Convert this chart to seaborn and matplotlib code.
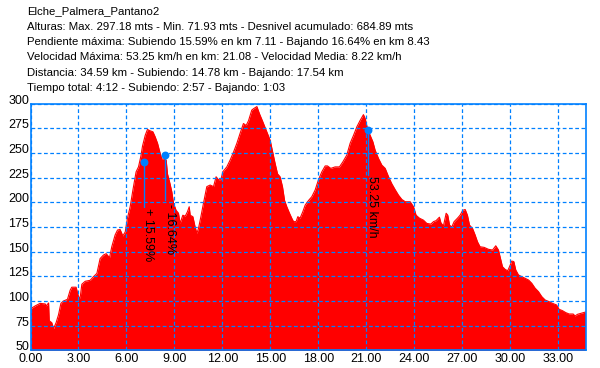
import matplotlib
matplotlib.use("Agg")
import matplotlib.pyplot as plt
import seaborn as sns
import pandas as pd

# ---------------- data ----------------
km = [0.00, 0.29, 0.60, 0.92, 0.98, 1.13, 1.17, 1.33, 1.44, 1.60, 1.75, 1.90,
      2.06, 2.31, 2.48, 2.58, 2.85, 3.00, 3.10, 3.21, 3.42, 3.73, 3.94, 4.15,
      4.35, 4.56, 4.73, 4.94, 5.08, 5.29, 5.44, 5.60, 5.77, 5.92, 6.06, 6.23,
      6.40, 6.60, 6.75, 6.90, 7.00, 7.17, 7.31, 7.48, 7.65, 7.79, 7.94, 8.10,
      8.21, 8.35, 8.48, 8.56, 8.69, 8.83, 8.94, 9.10, 9.25, 9.35, 9.52, 9.67,
      9.81, 9.92, 9.98, 10.15, 10.29, 10.40, 10.50, 10.65, 10.81, 11.02, 11.23,
      11.44, 11.60, 11.75, 11.90, 12.02, 12.27, 12.48, 12.69, 12.90, 13.10,
      13.31, 13.48, 13.63, 13.83, 13.94, 14.15, 14.31, 14.52, 14.77, 14.98,
      15.15, 15.29, 15.44, 15.60, 15.75, 15.88, 16.02, 16.19, 16.33, 16.44,
      16.60, 16.71, 16.85, 17.02, 17.17, 17.38, 17.58, 17.79, 18.00, 18.21,
      18.42, 18.56, 18.77, 19.04, 19.31, 19.52, 19.77, 19.98, 20.19, 20.40,
      20.60, 20.81, 20.92, 21.06, 21.23, 21.40, 21.54, 21.75, 21.96, 22.17,
      22.38, 22.58, 22.79, 23.00, 23.21, 23.42, 23.73, 23.94, 24.10, 24.31,
      24.56, 24.77, 25.02, 25.19, 25.35, 25.56, 25.65, 25.81, 25.98, 26.08,
      26.19, 26.33, 26.48, 26.69, 26.85, 27.02, 27.17, 27.31, 27.44, 27.63,
      27.79, 27.94, 28.10, 28.35, 28.63, 28.88, 29.08, 29.25, 29.40, 29.50,
      29.67, 29.83, 29.96, 30.08, 30.21, 30.33, 30.50, 30.71, 30.92, 31.13,
      31.33, 31.54, 31.75, 31.96, 32.17, 32.42, 32.63, 32.88, 33.04, 33.25,
      33.46, 33.67, 33.92, 34.04, 34.19, 34.40, 34.69]
elev = [92.0, 95.0, 97.6, 97.0, 95.0, 98.0, 80.0, 78.0, 72.0, 78.0, 86.0, 97.6,
        100.0, 101.7, 111.0, 114.0, 114.0, 104.4, 103.0, 117.0, 120.0, 121.0,
        124.7, 128.0, 143.0, 146.6, 148.0, 144.0, 155.0, 167.0, 172.0, 172.6,
        166.0, 170.0, 184.0, 195.6, 212.5, 231.0, 236.0, 247.0, 257.0, 268.0,
        274.0, 272.6, 271.6, 266.6, 260.0, 250.0, 244.0, 244.0, 243.0, 229.0,
        221.0, 211.0, 199.0, 192.0, 189.0, 178.7, 187.0, 186.0, 190.5, 195.6,
        187.0, 185.5, 175.0, 168.6, 173.6, 185.5, 199.0, 216.0, 217.6, 216.0,
        226.0, 223.0, 223.0, 231.0, 236.0, 243.0, 251.0, 260.0, 270.0, 280.0,
        278.0, 283.0, 293.6, 295.0, 297.2, 290.0, 281.8, 271.6, 263.0, 250.0,
        239.5, 229.0, 226.0, 216.0, 202.0, 195.6, 189.0, 184.0, 180.5, 180.5,
        185.5, 184.0, 190.5, 197.3, 202.0, 205.7, 212.5, 223.0, 231.0, 237.0,
        237.0, 234.5, 236.0, 236.0, 241.0, 248.0, 260.0, 268.0, 276.7, 283.0,
        289.0, 285.0, 275.0, 268.0, 261.5, 253.0, 244.6, 237.8, 234.5, 226.0,
        219.0, 213.0, 207.4, 203.0, 200.7, 200.7, 195.6, 187.0, 184.0, 182.0,
        178.7, 178.0, 180.5, 181.5, 185.0, 179.4, 176.0, 189.0, 187.0, 177.0,
        175.0, 180.5, 184.0, 187.0, 192.0, 192.8, 187.0, 177.0, 173.6, 167.0,
        160.0, 155.0, 154.4, 152.4, 151.7, 156.0, 151.7, 141.5, 134.8, 132.0,
        130.7, 135.5, 140.5, 140.0, 131.5, 126.4, 124.7, 123.0, 121.3, 118.0,
        113.0, 109.5, 104.4, 101.0, 99.3, 97.6, 96.0, 91.6, 90.2, 88.2, 86.8,
        86.8, 84.8, 86.5, 87.5, 88.8]

title_lines = [
    "Elche_Palmera_Pantano2",
    "Alturas: Max. 297.18 mts - Min. 71.93 mts - Desnivel acumulado: 684.89 mts",
    "Pendiente máxima: Subiendo 15.59% en km 7.11 - Bajando 16.64% en km 8.43",
    "Velocidad Máxima: 53.25 km/h en km: 21.08 - Velocidad Media: 8.22 km/h",
    "Distancia: 34.59 km - Subiendo: 14.78 km - Bajando: 17.54 km",
    "Tiempo total: 4:12 - Subiendo: 2:57 - Bajando: 1:03",
]

marker_km = [7.11, 8.43, 21.08]
marker_elev = [240.8, 248.0, 273.6]
marker_low = [195.6, 202.5, 228.0]
marker_labels = ["+ 15.59%", "- 16.64%", "53.25 km/h"]
label_km = [7.34, 8.70, 21.33]
label_top = [194.0, 198.5, 227.0]

x_ticks = [0, 3, 6, 9, 12, 15, 18, 21, 24, 27, 30, 33]
y_ticks = [50, 75, 100, 125, 150, 175, 200, 225, 250, 275, 300]

# ---------------- style ----------------
sns.set_style("white")
plt.rcParams['font.family'] = ['Liberation Sans', 'DejaVu Sans']
BLUE = "#0080FF"
RED = "#FF0000"

W, H = 600, 368
fig = plt.figure(figsize=(W / 100, H / 100), dpi=100)
left, right, top, bottom = 30.5, 585.5, 103.8, 350.3
ax = fig.add_axes([left / W, 1 - bottom / H, (right - left) / W, (bottom - top) / H])

df = pd.DataFrame({"km": km, "elev": elev})
ax.fill_between(df["km"], df["elev"], 0, color=RED, linewidth=0, zorder=1)
sns.lineplot(data=df, x="km", y="elev", color=RED, linewidth=0.8, ax=ax, zorder=1.1)

ax.set_xlim(0, 34.69)
ax.set_ylim(50, 300)
ax.set_xticks(x_ticks)
ax.set_xticklabels([f"{v:.2f}" for v in x_ticks])
ax.set_yticks(y_ticks)
ax.set_yticklabels([str(v) for v in y_ticks])
ax.set_xlabel("")
ax.set_ylabel("")

ax.set_axisbelow(False)
ax.grid(True, color=BLUE, linestyle=(0, (3, 2)), linewidth=0.9)
for s in ax.spines.values():
    s.set_visible(True)
    s.set_color(BLUE)
    s.set_linewidth(1.2)
    s.set_zorder(5)
ax.tick_params(axis="both", length=0, labelsize=9, colors="black")
ax.tick_params(axis="y", pad=0.8)
ax.tick_params(axis="x", pad=2.0)
for lab in ax.get_yticklabels():
    lab.set_verticalalignment("baseline")

# markers
for mk, me, ml in zip(marker_km, marker_elev, marker_low):
    ax.plot([mk, mk], [me, ml], color=BLUE, linewidth=1.0, zorder=4)
mdf = pd.DataFrame({"km": marker_km, "elev": marker_elev})
sns.scatterplot(data=mdf, x="km", y="elev", color=BLUE, s=32, linewidth=0,
                ax=ax, zorder=6, legend=False)
ax.set_xlabel("")
ax.set_ylabel("")
for lk, lt, lab in zip(label_km, label_top, marker_labels):
    ax.text(lk, lt, lab, rotation=270, ha="center", va="top", fontsize=9,
            color="black", zorder=7)

# header text
line_y = [11, 26.7, 42.3, 57.3, 72.7, 87.7]
for yy, txt in zip(line_y, title_lines):
    fig.text(27 / W, 1 - yy / H, txt, ha="left", va="center", fontsize=8.2,
             color="black")

fig.savefig("out.png", dpi=100)
